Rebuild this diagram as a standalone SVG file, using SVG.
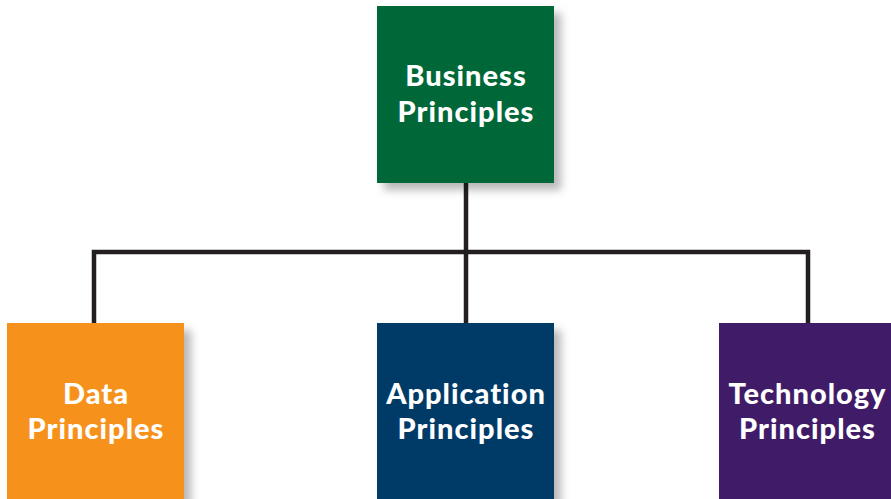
<svg xmlns="http://www.w3.org/2000/svg" width="891" height="499" viewBox="0 0 891 499">
<defs>
<filter id="sh" x="-20%" y="-20%" width="150%" height="150%">
<feDropShadow dx="7" dy="7" stdDeviation="4" flood-color="#000" flood-opacity="0.28"/>
</filter>
<style>
.box{filter:url(#sh)}
.t{font-family:Lato,"Open Sans","Liberation Sans",sans-serif;font-weight:900;font-size:29px;letter-spacing:1px;fill:#fff;text-anchor:middle}
.c{fill:none;stroke:#231f20;stroke-width:4.5;stroke-linecap:butt;stroke-linejoin:miter}
</style>
</defs>
<rect width="891" height="499" fill="#fff"/>
<g id="connectors">
<path class="c" d="M466 183 V252"/>
<path class="c" d="M94 323 V252 H808 V323"/>
<path class="c" d="M466 252 V323"/>
</g>
<g id="business">
<rect class="box" x="377" y="6" width="177" height="177" fill="#006838"/>
<text class="t" x="466" y="86">Business</text>
<text class="t" x="466" y="121.5">Principles</text>
</g>
<g id="data">
<rect class="box" x="7" y="323" width="177" height="190" fill="#F6921E"/>
<text class="t" x="96" y="404">Data</text>
<text class="t" x="96" y="439">Principles</text>
</g>
<g id="application">
<rect class="box" x="377" y="323" width="177" height="190" fill="#003B68"/>
<text class="t" x="466" y="404">Application</text>
<text class="t" x="466" y="439">Principles</text>
</g>
<g id="technology">
<rect class="box" x="719" y="323" width="177" height="190" fill="#401F68"/>
<text class="t" x="807.5" y="404">Technology</text>
<text class="t" x="807.5" y="439">Principles</text>
</g>
</svg>
